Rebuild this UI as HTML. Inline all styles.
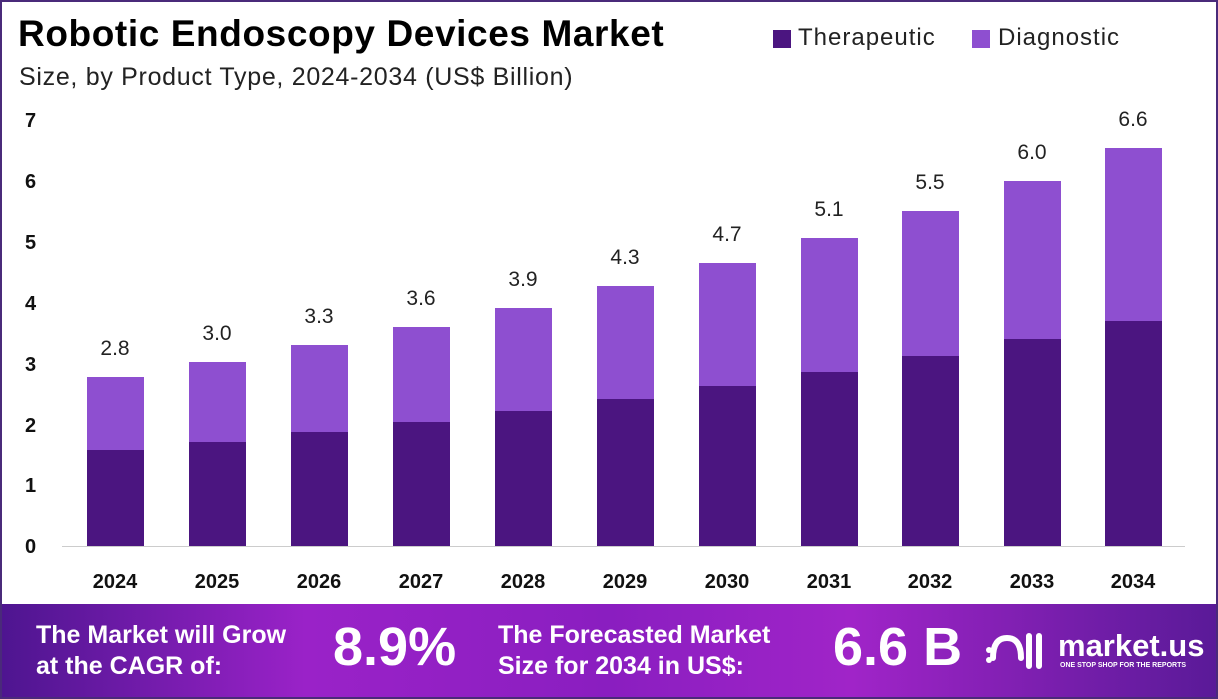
<!DOCTYPE html>
<html><head><meta charset="utf-8"><style>
body{margin:0;width:1218px;height:699px;overflow:hidden;background:#fff;font-family:"Liberation Sans",sans-serif}
.frame{position:absolute;left:0;top:0;width:1214px;height:695px;border:2px solid #4a2a7a}
.t{position:absolute;white-space:nowrap}
.banner{position:absolute;left:2px;top:604px;width:1214px;height:93px;background:linear-gradient(90deg,#4e1590 0%,#9a22c8 25%,#8a1ec0 50%,#a024c8 70%,#5a1a98 100%)}
.b{color:#fff;font-weight:bold}
</style></head><body>
<div class="frame"></div>
<div class="t" style="left:18px;top:13px;font-size:37px;font-weight:bold;letter-spacing:0.6px">Robotic Endoscopy Devices Market</div>
<div class="t" style="left:19px;top:63px;font-size:25px;color:#222;letter-spacing:0.7px">Size, by Product Type, 2024-2034 (US$ Billion)</div>
<div style="position:absolute;left:773px;top:30px;width:18px;height:18px;background:#4b1580"></div>
<div class="t" style="left:798px;top:24px;font-size:24px;color:#222;letter-spacing:1px">Therapeutic</div>
<div style="position:absolute;left:972px;top:30px;width:18px;height:18px;background:#8e4fd0"></div>
<div class="t" style="left:998px;top:24px;font-size:24px;color:#222;letter-spacing:1px">Diagnostic</div>
<svg width="1218" height="699" style="position:absolute;left:0;top:0">
<g font-family="Liberation Sans" font-weight="bold" font-size="20" fill="#111">
<text x="25" y="553">0</text><text x="25" y="492">1</text><text x="25" y="432">2</text><text x="25" y="371">3</text><text x="25" y="310">4</text><text x="25" y="249">5</text><text x="25" y="188">6</text><text x="25" y="127">7</text>
</g>
<line x1="62" y1="546.5" x2="1185" y2="546.5" stroke="#ccc"/>
<g id="bars"></g>
</svg>
<script>
var c=[115,217,319,421,523,625,727,829,930,1032,1133],th=[450,442,432,422,411,399,386,372,356,339,321],tt=[377,362,345,327,308,286,263,238,211,181,148],lab=["2.8","3.0","3.3","3.6","3.9","4.3","4.7","5.1","5.5","6.0","6.6"];
var s="";for(var i=0;i<11;i++){var x=c[i]-28;
s+='<rect x="'+x+'" y="'+tt[i]+'" width="57" height="'+(th[i]-tt[i])+'" fill="#8e4fd0"/>';
s+='<rect x="'+x+'" y="'+th[i]+'" width="57" height="'+(546-th[i])+'" fill="#4b1580"/>';
s+='<text x="'+c[i]+'" y="'+(tt[i]-22)+'" text-anchor="middle" font-family="Liberation Sans" font-size="21" fill="#222">'+lab[i]+'</text>';
s+='<text x="'+c[i]+'" y="588" text-anchor="middle" font-family="Liberation Sans" font-weight="bold" font-size="20" fill="#111">'+(2024+i)+'</text>';}
document.getElementById("bars").innerHTML=s;
</script>
<div class="banner"></div>
<div class="t b" style="left:36px;top:620px;font-size:25px;line-height:31px">The Market will Grow<br>at the CAGR of:</div>
<div class="t b" style="left:333px;top:616px;font-size:54px">8.9%</div>
<div class="t b" style="left:498px;top:620px;font-size:25px;line-height:31px">The Forecasted Market<br>Size for 2034 in US$:</div>
<div class="t b" style="left:833px;top:616px;font-size:54px">6.6 B</div>
<svg width="70" height="50" style="position:absolute;left:985px;top:628px"><path d="M8 30 Q8 10 22 10 Q36 10 36 30 M44 8 V38 M54 8 V38" stroke="#fff" stroke-width="6" fill="none" stroke-linecap="round"/><circle cx="4" cy="22" r="3" fill="#fff"/><circle cx="4" cy="32" r="3" fill="#fff"/></svg>
<div class="t b" style="left:1058px;top:628px;font-size:31px">market.us</div>
<div class="t b" style="left:1060px;top:662px;font-size:7px">ONE STOP SHOP FOR THE REPORTS</div>
</body></html>
